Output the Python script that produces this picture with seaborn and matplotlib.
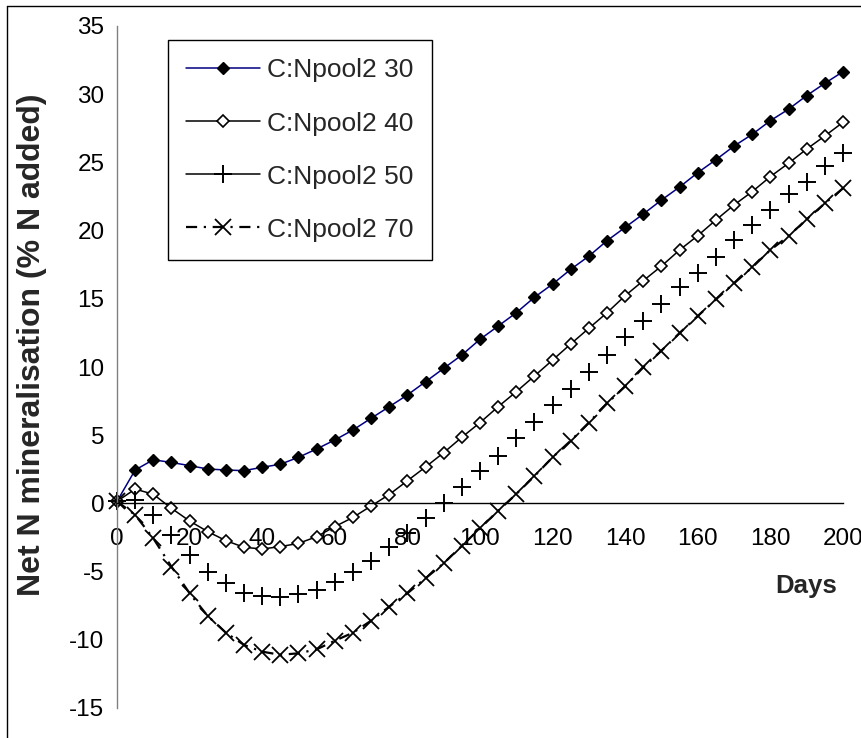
import matplotlib
matplotlib.use("Agg")
import matplotlib.pyplot as plt
from matplotlib.lines import Line2D
import numpy as np
import pandas as pd
import seaborn as sns

# ---------------- data ----------------
days = list(range(0, 201, 5))

cn30 = [0.15, 2.45, 3.2, 3.0, 2.77, 2.52, 2.45, 2.4, 2.65, 2.87, 3.38, 3.99, 4.65,
        5.38, 6.24, 7.09, 7.95, 8.92, 9.9, 10.88, 12.03, 13.0, 13.98, 15.11, 16.08,
        17.16, 18.13, 19.26, 20.24, 21.22, 22.24, 23.2, 24.25, 25.2, 26.2, 27.06,
        28.06, 28.9, 29.9, 30.8, 31.65]
cn40 = [0.15, 1.05, 0.67, -0.36, -1.29, -2.07, -2.73, -3.22, -3.34, -3.17, -2.93,
        -2.44, -1.7, -1.03, -0.19, 0.65, 1.66, 2.67, 3.72, 4.85, 5.92, 7.09, 8.19,
        9.34, 10.51, 11.69, 12.84, 13.98, 15.23, 16.33, 17.4, 18.58, 19.63, 20.78,
        21.88, 22.86, 23.96, 24.94, 25.98, 26.94, 27.94]
cn50 = [0.15, 0.25, -0.85, -2.3, -3.8, -5.0, -5.86, -6.54, -6.79, -6.84, -6.64,
        -6.35, -5.74, -5.0, -4.2, -3.17, -2.15, -1.09, 0.03, 1.17, 2.4, 3.5, 4.77,
        6.0, 7.18, 8.4, 9.66, 10.88, 12.18, 13.4, 14.63, 15.86, 16.91, 18.04, 19.3,
        20.4, 21.5, 22.68, 23.59, 24.74, 25.71]
cn70 = [0.15, -0.85, -2.56, -4.64, -6.59, -8.26, -9.48, -10.38, -10.87, -11.1,
        -10.99, -10.7, -10.07, -9.48, -8.6, -7.57, -6.59, -5.49, -4.39, -3.11,
        -1.83, -0.54, 0.69, 2.0, 3.38, 4.6, 5.93, 7.33, 8.58, 9.98, 11.2, 12.5,
        13.74, 14.96, 16.14, 17.31, 18.58, 19.6, 20.83, 22.0, 23.1]

labels = ["C:Npool2 30", "C:Npool2 40", "C:Npool2 50", "C:Npool2 70"]
x_ticks = list(range(0, 201, 20))
y_ticks = list(range(-15, 36, 5))

# ---------------- style ----------------
sns.set_style("white")
plt.rcParams["font.family"] = ["Liberation Sans", "DejaVu Sans"]
plt.rcParams["axes.unicode_minus"] = False

W, H = 862, 738
fig = plt.figure(figsize=(W / 100, H / 100), dpi=100)
ax = fig.add_axes([117 / W, 1 - 708 / H, (843 - 117) / W, (708 - 26) / H])

df = pd.DataFrame({"Days": days, "s30": cn30, "s40": cn40, "s50": cn50, "s70": cn70})

styles = [
    dict(y="s30", color="#000080", linestyle="-", lw=1.1, marker="D", ms=6.2,
         mfc="black", mec="black", mew=1.0),
    dict(y="s40", color="black", linestyle="-", lw=1.1, marker="D", ms=6.2,
         mfc="white", mec="black", mew=1.2),
    dict(y="s50", color="black", linestyle="none", lw=1.1, marker="+", ms=13,
         mfc="black", mec="black", mew=1.4),
    dict(y="s70", color="black", linestyle=(0, (5, 3, 1, 3)), lw=1.6, marker="x",
         ms=11, mfc="black", mec="black", mew=1.3),
]

for st in styles:
    st = dict(st)
    ycol = st.pop("y")
    sns.lineplot(data=df, x="Days", y=ycol, ax=ax, legend=False,
                 markeredgecolor=st.pop("mec"), markerfacecolor=st.pop("mfc"),
                 markersize=st.pop("ms"), markeredgewidth=st.pop("mew"),
                 linewidth=st.pop("lw"), **st, clip_on=False)

ax.set_xlim(0, 200)
ax.set_ylim(-15, 35)
ax.set_xticks(x_ticks)
ax.set_yticks(y_ticks)
ax.set_xlabel("")
ax.set_ylabel("")

for s in ["top", "right"]:
    ax.spines[s].set_visible(False)
ax.spines["bottom"].set_position(("data", 0))
ax.spines["bottom"].set_color("black")
ax.spines["bottom"].set_linewidth(1.0)
ax.spines["left"].set_color("#808080")
ax.spines["left"].set_linewidth(1.0)

ax.tick_params(axis="x", direction="out", length=5.5, width=1.0, color="#606060",
               pad=12.5, labelsize=17.5, labelcolor="black")
ax.tick_params(axis="y", direction="out", length=5.5, width=1.0, color="#808080",
               pad=3.5, labelsize=17.5, labelcolor="black")
ax.grid(False)
ax.set_facecolor("white")

# axis labels
fig.text(806 / W, 1 - 586 / H, "Days", ha="center", va="center",
         fontsize=18.5, fontweight="bold")
fig.text(32 / W, 1 - 345 / H, "Net N mineralisation (% N added)", ha="center",
         va="center", rotation=90, fontsize=23, fontweight="bold")

# legend
handles = []
for st, lab in zip(styles, labels):
    ls = st["linestyle"] if st["linestyle"] != "none" else "-"
    handles.append(Line2D([0], [0], color=st["color"], linestyle=ls,
                          lw=1.1 if st["y"] != "s70" else 1.6,
                          marker=st["marker"], ms=st["ms"], mfc=st["mfc"],
                          mec=st["mec"], mew=st["mew"], label=lab))
leg = ax.legend(handles=handles, loc="upper left",
                bbox_to_anchor=(168 / W, 1 - 40 / H), bbox_transform=fig.transFigure,
                frameon=True, fancybox=False, framealpha=1, edgecolor="black",
                fontsize=19, handlelength=2.8, handletextpad=0.25,
                borderpad=0.7, labelspacing=1.1, borderaxespad=0)
leg.get_frame().set_linewidth(1.0)

# chart-area border (left and top edges visible)
fig.add_artist(Line2D([7 / W, 7 / W], [0, 1 - 6 / H], color="black", lw=1.0,
                      transform=fig.transFigure))
fig.add_artist(Line2D([7 / W, 1], [1 - 6 / H, 1 - 6 / H], color="black", lw=1.0,
                      transform=fig.transFigure))

fig.savefig("out.png", dpi=100, facecolor="white")
